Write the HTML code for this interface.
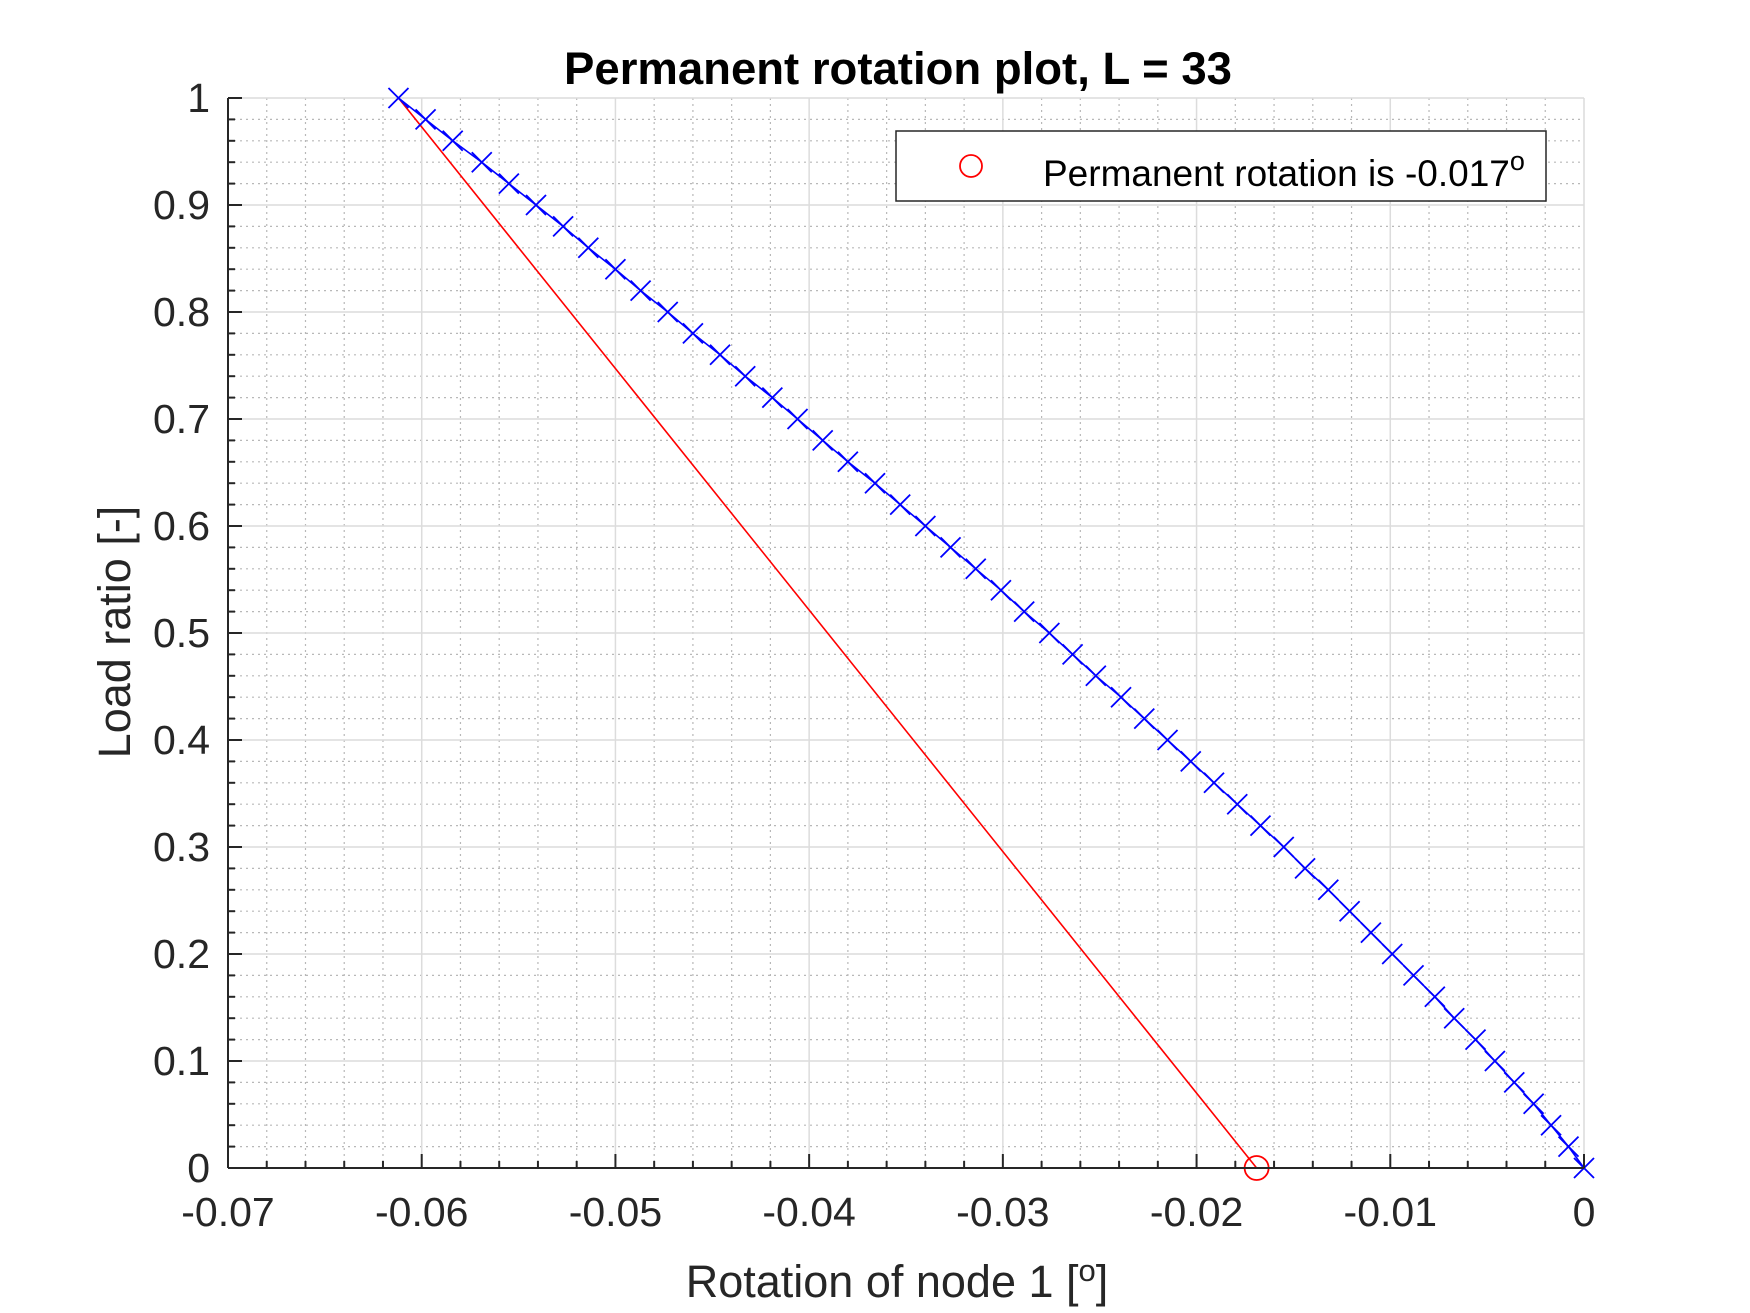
<!DOCTYPE html>
<html><head><meta charset="utf-8"><style>
html,body{margin:0;padding:0;background:#fff;}
svg{display:block;font-family:"Liberation Sans",sans-serif;}
</style></head><body>
<svg id="chart" width="1750" height="1313" viewBox="0 0 1750 1313" xmlns="http://www.w3.org/2000/svg">
<rect x="0" y="0" width="1750" height="1313" fill="#fff"/>
<g id="grid"></g>
<g id="series"></g>
<g id="axes"></g>
<text x="898" y="84" text-anchor="middle" font-size="45.5" font-weight="bold" fill="#000">Permanent rotation plot, L = 33</text>
<text x="897" y="1297" text-anchor="middle" font-size="45" fill="#262626">Rotation of node 1 [<tspan dy="-16" font-size="31">o</tspan><tspan dy="16">]</tspan></text>
<text transform="translate(130,632) rotate(-90)" text-anchor="middle" font-size="45" fill="#262626">Load ratio [-]</text>
<g>
<rect x="896" y="131" width="650" height="70" fill="#fff" stroke="#262626" stroke-width="1.5"/>
<ellipse cx="971" cy="166" rx="11" ry="11" fill="none" stroke="#f00" stroke-width="1.8"/>
<text x="1043" y="186" font-size="37" fill="#000">Permanent rotation is -0.017<tspan dy="-16" font-size="27">o</tspan></text>
</g>
</svg>
<script>
const loadRatios = [0,0.02,0.04,0.06,0.08,0.10,0.12,0.14,0.16,0.18,0.20,0.22,0.24,0.26,0.28,0.30,0.32,0.34,0.36,0.38,0.40,0.42,0.44,0.46,0.48,0.50,0.52,0.54,0.56,0.58,0.60,0.62,0.64,0.66,0.68,0.70,0.72,0.74,0.76,0.78,0.80,0.82,0.84,0.86,0.88,0.90,0.92,0.94,0.96,0.98,1.00];
const rotations = [0,-0.0008,-0.0017,-0.0026,-0.0036,-0.0046,-0.0056,-0.0067,-0.0077,-0.0088,-0.0099,-0.0110,-0.0121,-0.0132,-0.0144,-0.0155,-0.0167,-0.0179,-0.0191,-0.0203,-0.0215,-0.0227,-0.0239,-0.0252,-0.0264,-0.0276,-0.0289,-0.0301,-0.0314,-0.0327,-0.0340,-0.0353,-0.0366,-0.0380,-0.0393,-0.0406,-0.0419,-0.0433,-0.0446,-0.0460,-0.0473,-0.0487,-0.0500,-0.0514,-0.0527,-0.0541,-0.0555,-0.0569,-0.0584,-0.0598,-0.0612];
const unloadX = [-0.0612,-0.0169];
const unloadY = [1,0];
const permRotation = [-0.0169];
const xTicks = [-0.07,-0.06,-0.05,-0.04,-0.03,-0.02,-0.01,0];
const xTickLabels = ["-0.07","-0.06","-0.05","-0.04","-0.03","-0.02","-0.01","0"];
const yTicks = [0,0.1,0.2,0.3,0.4,0.5,0.6,0.7,0.8,0.9,1];
const yTickLabels = ["0","0.1","0.2","0.3","0.4","0.5","0.6","0.7","0.8","0.9","1"];

const L=228,R=1584,T=98,B=1168,xmin=-0.07,xmax=0,ymin=0,ymax=1;
const sx=v=>L+(v-xmin)/(xmax-xmin)*(R-L);
const sy=v=>B-(v-ymin)/(ymax-ymin)*(B-T);
const NS="http://www.w3.org/2000/svg";
function mk(tag,attrs,parent){const e=document.createElementNS(NS,tag);for(const k in attrs)e.setAttribute(k,attrs[k]);parent.appendChild(e);return e;}
const grid=document.getElementById('grid'),ser=document.getElementById('series'),ax=document.getElementById('axes');

for(let i=0;i<=35;i++){const v=xmin+i*0.002;if(i%5===0)continue;const x=sx(v);
 const g=mk('line',{x1:x,y1:T,x2:x,y2:B,stroke:'#b8b8b8','stroke-width':1.2,'stroke-dasharray':'2,4'},grid);
 
 
 const t=mk('line',{x1:x,y1:B,x2:x,y2:B-7,stroke:'#262626','stroke-width':2},ax);
 
 }
for(let i=0;i<=50;i++){if(i%5===0)continue;const y=sy(i*0.02);
 const g=mk('line',{x1:L,y1:y,x2:R,y2:y,stroke:'#b8b8b8','stroke-width':1.2,'stroke-dasharray':'2,4'},grid);
 
 
 const t=mk('line',{x1:L,y1:y,x2:L+7,y2:y,stroke:'#262626','stroke-width':2},ax);
 
 }
xTicks.forEach((v,i)=>{const x=sx(v);
 const g=mk('line',{x1:x,y1:T,x2:x,y2:B,stroke:'#dcdcdc','stroke-width':1.5},grid);
 
 
 const t=mk('line',{x1:x,y1:B,x2:x,y2:B-14,stroke:'#262626','stroke-width':2},ax);
 
 
 const lb=mk('text',{x:x,y:1226,'text-anchor':'middle','font-size':41,fill:'#262626'},ax);
 lb.textContent=xTickLabels[i];
 
 });
yTicks.forEach((v,i)=>{const y=sy(v);
 const g=mk('line',{x1:L,y1:y,x2:R,y2:y,stroke:'#dcdcdc','stroke-width':1.5},grid);
 
 
 const t=mk('line',{x1:L,y1:y,x2:L+14,y2:y,stroke:'#262626','stroke-width':2},ax);
 
 
 const lb=mk('text',{x:210,y:y+14,'text-anchor':'end','font-size':41,fill:'#262626'},ax);
 lb.textContent=yTickLabels[i];
 
 });
const xa=mk('line',{x1:L,y1:B,x2:R,y2:B,stroke:'#262626','stroke-width':2},ax);


const ya=mk('line',{x1:L,y1:T,x2:L,y2:B,stroke:'#262626','stroke-width':2},ax);



const red=mk('polyline',{points:unloadX.map((v,i)=>sx(v)+','+sy(unloadY[i])).join(' '),fill:'none',stroke:'#f00','stroke-width':1.6},ser);


const blue=mk('polyline',{points:rotations.map((v,i)=>sx(v)+','+sy(loadRatios[i])).join(' '),fill:'none',stroke:'#00f','stroke-width':1.6},ser);


rotations.forEach((v,i)=>{const x=sx(v),y=sy(loadRatios[i]),s=10;
 const p=mk('path',{d:`M${x-s},${y-s}L${x+s},${y+s}M${x-s},${y+s}L${x+s},${y-s}`,stroke:'#00f','stroke-width':1.8,fill:'none'},ser);
 
 });
const c=mk('ellipse',{cx:sx(permRotation[0]),cy:sy(0),rx:12,ry:12,fill:'none',stroke:'#f00','stroke-width':1.8},ser);


</script>
</body></html>
